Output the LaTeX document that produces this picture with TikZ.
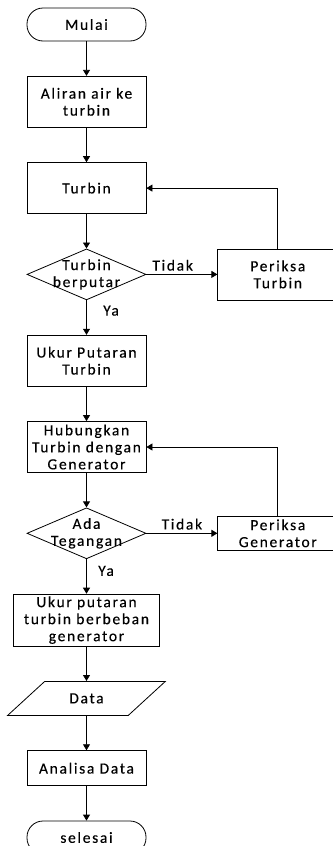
\documentclass[tikz,border=0pt]{standalone}
\usepackage{fontspec}
\setmainfont{Carlito}[LetterSpace=11,FakeBold=0.3]
\usetikzlibrary{positioning,shapes.geometric,arrows.meta}

\begin{document}
\begin{tikzpicture}[
    x=1pt,y=1pt,
    font=\fontsize{15.5}{17}\selectfont,
    line width=0.8pt,
    terminal/.style={
        rectangle,draw,rounded corners=16pt,
        minimum width=119pt,
        minimum height=33pt,
        align=center
    },
    process/.style={
        rectangle,draw,inner sep=0pt,
        minimum width=119pt,
        minimum height=51pt,
        align=center
    },
    decision/.style={
        diamond,draw,inner sep=0pt,
        minimum width=119pt,
        minimum height=51pt
    },
    inout/.style={
        trapezium,draw,trapezium stretches=true,
        trapezium left angle=42.6,trapezium right angle=137.4,
        minimum width=158pt,
        minimum height=34pt
    },
    flow/.style={-{Triangle[length=6pt,width=7pt]}}
]
\useasboundingbox (0,0) rectangle (332,-846);

\node[terminal] (mulai) at (86.5,-24.5) {Mulai};
\node[process, below=34.5pt of mulai] (aliran) {Aliran air ke\\turbin};
\node[process, below=34.5pt of aliran] (turbin) {Turbin};
\node[decision, below=34.5pt of turbin,
      label={[align=center]center:Turbin\\berputar}] (cekputar) {};
\node[process, right=71pt of cekputar, minimum width=120pt] (periksaT) {Periksa\\Turbin};
\node[process, below=34.5pt of cekputar] (ukur) {Ukur Putaran\\Turbin};
\node[process, below=34.5pt of ukur] (hubung) {Hubungkan\\Turbin dengan\\Generator};
\node[decision, below=34.5pt of hubung,
      label={[align=center]center:Ada\\Tegangan}] (cekvolt) {};
\node[process, right=71pt of cekvolt, minimum width=120pt, minimum height=34pt] (periksaG) {Periksa\\Generator};
\node[process, below=34.5pt of cekvolt, minimum width=146pt, minimum height=52pt] (ukurbeban) {Ukur putaran\\turbin berbeban\\generator};
\node[inout, below=34.5pt of ukurbeban] (data) {Data};
\node[process, below=34.5pt of data, minimum height=35pt] (analisa) {Analisa Data};
\node[terminal, below=34.5pt of analisa] (selesai) {selesai};

\draw[flow] (mulai) -- (aliran);
\draw[flow] (aliran) -- (turbin);
\draw[flow] (turbin) -- (cekputar);
\draw[flow] (cekputar) -- node[pos=0.37, above] {Tidak} (periksaT);
\draw[flow] (periksaT.north) |- (turbin.east);
\draw[flow] (cekputar) -- node[pos=0.3, anchor=west, xshift=13pt] {Ya} (ukur);
\draw[flow] (ukur) -- (hubung);
\draw[flow] (hubung) -- (cekvolt);
\draw[flow] (cekvolt) -- node[pos=0.5, above] {Tidak} (periksaG);
\draw[flow] (periksaG.north) |- (hubung.east);
\draw[flow] (cekvolt) -- node[pos=0.34, anchor=west, xshift=8pt] {Ya} (ukurbeban);
\draw[flow] (ukurbeban) -- (data);
\draw[flow] (data) -- (analisa);
\draw[flow] (analisa) -- (selesai);
\end{tikzpicture}
\end{document}
